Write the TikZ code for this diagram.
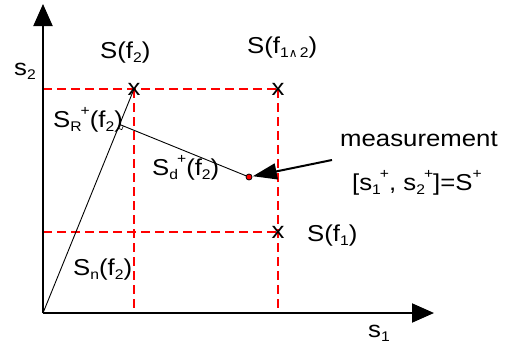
\documentclass[tikz,border=0pt]{standalone}
\usepackage{fontspec}
\setmainfont{Liberation Sans}[FakeStretch=1.12]
\newfontfamily\dvs{DejaVu Sans}
\usetikzlibrary{arrows.meta,calc}
\newcommand{\sbs}[1]{\raisebox{-4.5pt}{\fontsize{14}{14}\selectfont #1}}
\newcommand{\sps}[1]{\raisebox{12pt}{\fontsize{14}{14}\selectfont #1}}
\begin{document}
\begin{tikzpicture}[x=1pt,y=-1pt,
  every node/.style={font=\fontsize{23}{26}\selectfont, inner sep=0pt},
  lbl/.style={anchor=base west},
  axis/.style={line width=2pt, -{Triangle[length=22pt,width=19pt]}},
  reddash/.style={red, line width=2pt, dash pattern=on 9pt off 5pt},
  thin line/.style={line width=0.9pt},
  xmark/.style={anchor=base}]
\useasboundingbox (0,0) rectangle (509,348);
% coordinates
\coordinate (O) at (43,313);
\coordinate (ytop) at (43,4);
\coordinate (xend) at (434,313);
\coordinate (P2) at (134,89);
\coordinate (P12) at (278,89);
\coordinate (P1) at (278,232);
\coordinate (L89) at (43,89);
\coordinate (L232) at (43,232);
\coordinate (B134) at (134,313);
\coordinate (B278) at (278,313);
\coordinate (M) at (249,177);
\coordinate (Astart) at (332,160);
% red dashed grid
\draw[reddash] (L89) -- (P12);
\draw[reddash] (L232) -- (P1);
\draw[reddash] (P2) -- (B134);
\draw[reddash] (P12) -- (B278);
% axes
\draw[axis] (O) -- (ytop);
\draw[axis] (O) -- (xend);
% x marks
\node[xmark] (x2) at ($(P2)+(0,6.5)$) {x};
\node[xmark] (x12) at ($(P12)+(0,6.5)$) {x};
\node[xmark] (x1) at ($(P1)+(0,6.5)$) {x};
% lines
\draw[thin line] (O) -- (P2);
\coordinate (F) at ($(O)!(M)!(P2)$);
\draw[thin line] (F) -- (M);
\coordinate (RA) at ($(F)!4pt!(M)$);
\coordinate (RB) at ($(F)!4pt!(O)$);
\draw[line width=0.6pt] (RA) -- ($(RA)+(RB)-(F)$) -- (RB);
% measurement point
\node[circle, fill=red, draw=black, line width=0.8pt, minimum size=6pt, inner sep=0pt] (meas) at (M) {};
\draw[line width=2pt, -{Triangle[length=24pt,width=16pt]}, shorten >=0.5pt] (Astart) -- (meas);
% labels
\node[lbl] (s2) at (14,75) {s\sbs{2}};
\node[lbl] (s1) at (368,337) {s\sbs{1}};
\node[lbl] (Sf2) at (100,58) {S(f\sbs{2})};
\node[lbl] (Sf12) at (247,53) {S(f\sbs{1{\dvs\fontsize{12}{12}\selectfont ∧}\,2})};
\node[lbl] (Sf1) at (307,241) {S(f\sbs{1})};
\node[lbl] (SR) at (53,127) {S\sbs{R}\kern-1pt\sps{+}(f\sbs{2})};
\node[lbl] (Sd) at (152,175) {S\sbs{d}\kern-1pt\sps{+}(f\sbs{2})};
\node[lbl] (Sn) at (73,275) {S\sbs{n}(f\sbs{2})};
\node[lbl] (meastxt) at (340,146) {measurement};
\node[lbl] (vec) at (352,190) {[s\sbs{1}\kern-1pt\sps{+}, s\sbs{2}\kern-1pt\sps{+}]=S\sps{+}};
\end{tikzpicture}
\end{document}
